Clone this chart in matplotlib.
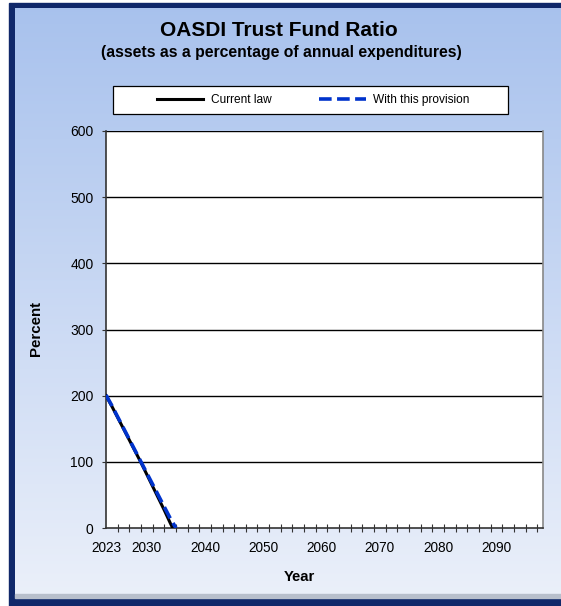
import matplotlib
matplotlib.use("Agg")
import matplotlib.pyplot as plt
import numpy as np
from matplotlib.patches import Rectangle
from matplotlib.lines import Line2D

plt.rcParams['font.family'] = ['Liberation Sans', 'DejaVu Sans']

years = list(range(2023, 2036))
current_law = [200, 184, 167, 150, 133, 116, 99, 81, 63, 45, 27, 8, -10]
provision = [201, 185, 168, 151, 134, 117, 100, 83, 66, 49, 32, 15, 0]
xtick_labels = [2023, 2030, 2040, 2050, 2060, 2070, 2080, 2090]
yticks = [0, 100, 200, 300, 400, 500, 600]

W, H = 561, 606
fig = plt.figure(figsize=(W / 100, H / 100), dpi=100)

# background frame with gradient
bg = fig.add_axes([0, 0, 1, 1])
bg.set_xlim(0, W)
bg.set_ylim(H, 0)
bg.axis('off')
bg.add_patch(Rectangle((9, 3), W - 9, H - 3, color='#10286a', zorder=0))
grad = np.linspace(0, 1, 256).reshape(-1, 1)
top = np.array([0.66, 0.76, 0.93])
bot = np.array([0.92, 0.94, 0.98])
img = top + (bot - top) * grad[..., None]
bg.imshow(img, extent=(15, W, 597, 8), aspect='auto', zorder=1)
bg.add_patch(Rectangle((15, 594), W - 15, 4, color='#b8bfcc', zorder=2))

# titles
fig.text(279 / W, 1 - 30 / H, 'OASDI Trust Fund Ratio', ha='center', va='center',
         fontsize=15, fontweight='bold')
fig.text(281 / W, 1 - 52 / H, '(assets as a percentage of annual expenditures)',
         ha='center', va='center', fontsize=11.3, fontweight='bold')

# legend box
bg.add_patch(Rectangle((113, 86), 395, 28, facecolor='white', edgecolor='black',
                       lw=0.9, zorder=3))

ax = fig.add_axes([106 / W, (H - 528) / H, 437 / W, 397 / H])
ax.set_facecolor('white')
ax.plot(years, current_law, color='black', lw=2.2, label='Current law', zorder=3)
ax.plot(years, provision, color='#0033cc', lw=2.6, linestyle=(0, (3.5, 1.5)),
        label='With this provision', zorder=4)

ax.set_xlim(2023, 2098)
ax.set_ylim(0, 600)
ax.set_yticks(yticks)
ax.set_xticks(xtick_labels)
ax.set_xticks(range(2023, 2098, 2), minor=True)
ax.tick_params(axis='x', which='major', length=0, labelsize=9.8, pad=9)
ax.tick_params(axis='x', which='minor', direction='inout', length=6, width=0.8,
               color='#333333')
ax.tick_params(axis='y', direction='out', length=3, width=0.8, labelsize=10,
               color='#333333', pad=6)
for y in yticks[1:]:
    ax.axhline(y, color='black', lw=1.0, zorder=1)
for s in ['left', 'bottom']:
    ax.spines[s].set_color('#333333')
    ax.spines[s].set_linewidth(1.2)
ax.spines['top'].set_visible(False)
ax.spines['right'].set_color('#888888')
ax.spines['right'].set_linewidth(1.2)

fig.text(36 / W, 1 - 329 / H, 'Percent', rotation=90, ha='center', va='center',
         fontsize=10.8, fontweight='bold')
fig.text(299 / W, 1 - 577 / H, 'Year', ha='center', va='center',
         fontsize=10.7, fontweight='bold')

handles = [Line2D([], [], color='black', lw=2.2),
           Line2D([], [], color='#0033cc', lw=2.6, linestyle=(0, (3.5, 1.5)))]
fig.legend(handles, ['Current law', 'With this provision'], loc='center',
           bbox_to_anchor=(313 / W, 1 - 100 / H), ncol=2, frameon=False,
           fontsize=8.6, handlelength=3.9, columnspacing=4.0, handletextpad=0.6)

fig.savefig('out.png', dpi=100)
